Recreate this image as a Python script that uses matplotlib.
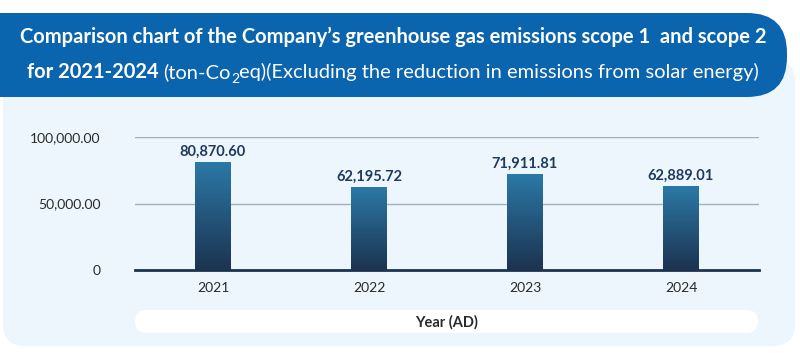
import numpy as np
import matplotlib
matplotlib.use("Agg")
import matplotlib.pyplot as plt
from matplotlib.patches import FancyBboxPatch
from matplotlib.colors import LinearSegmentedColormap

# donnees du graphique
years = ["2021", "2022", "2023", "2024"]
emissions = [80870.60, 62195.72, 71911.81, 62889.01]
yticks = [0, 50000, 100000]
ytick_labels = ["0", "50,000.00", "100,000.00"]

W, H = 800, 353
fig = plt.figure(figsize=(W / 100, H / 100), dpi=100)
fig.patch.set_facecolor("white")

# fond en coordonnees pixels
bg = fig.add_axes([0, 0, 1, 1])
bg.set_xlim(0, W)
bg.set_ylim(H, 0)
bg.axis("off")

# panneau bleu clair
bg.add_patch(FancyBboxPatch((3, 60), 792, 286, boxstyle="round,pad=0,rounding_size=22",
                            fc="#edf6fd", ec="none"))
# bandeau du titre
bg.add_patch(FancyBboxPatch((-60, 13), 847, 84, boxstyle="round,pad=0,rounding_size=40",
                            fc="#0b64ae", ec="none"))
# pilule blanche pour l'axe x
bg.add_patch(FancyBboxPatch((135, 310), 623, 23, boxstyle="round,pad=0,rounding_size=11.5",
                            fc="white", ec="none"))
bg.text(447, 322, "Year (AD)", ha="center", va="center", fontsize=10.5,
        fontweight="bold", color="#2a2a2a", family="Lato")

# titre : ligne 1
fs = 14.5
bg.text(393, 37, "Comparison chart of the Company\u2019s greenhouse gas emissions scope 1  and scope 2",
        ha="center", va="center", fontsize=fs, fontweight="bold", color="white", family="Lato")

# titre : ligne 2 avec poids melanges, assemblee morceau par morceau
pieces = [("for 2021-2024 ", "bold", fs, 0),
          ("(ton-Co", "normal", fs, 0),
          ("2", "normal", fs * 0.7, 5),
          ("eq)(Excluding the reduction in emissions from solar energy)", "normal", fs, 0)]
fig.canvas.draw()
r = fig.canvas.get_renderer()
widths = []
for s, w, f, dy in pieces:
    t = bg.text(0, 0, s, fontsize=f, fontweight=w, family="Lato")
    widths.append(t.get_window_extent(r).width)
    t.remove()
x = 393 - sum(widths) / 2
for (s, w, f, dy), wd in zip(pieces, widths):
    bg.text(x, 78 + dy, s, ha="left", va="baseline", fontsize=f, fontweight=w,
            color="white", family="Lato")
    x += wd

# axes principaux
ax = fig.add_axes([135 / W, 1 - 270 / H, 624 / W, 133 / H])
ax.patch.set_alpha(0)
xpos = np.arange(len(years)) + 0.5
bars = ax.bar(xpos, emissions, width=0.23, color="none", zorder=3)

cmap = LinearSegmentedColormap.from_list("barre", ["#1c3350", "#2b79a6"])
grad = np.linspace(0, 1, 256).reshape(-1, 1)
for b in bars:
    x0, w = b.get_x(), b.get_width()
    h = b.get_height()
    im = ax.imshow(grad, cmap=cmap, origin="lower", aspect="auto",
                   extent=(x0, x0 + w, 0, h), zorder=3)
    im.set_clip_path(b)
    ax.text(b.get_x() + w / 2, h + 2500, f"{h:,.2f}", ha="center", va="bottom",
            fontsize=10.5, fontweight="bold", color="#1e3a5c", family="Lato", clip_on=False)

ax.set_xlim(0, len(years))
ax.set_ylim(0, 100000)
ax.set_xticks(xpos)
ax.set_xticklabels(years, fontsize=10, color="#2a2a2a", family="Lato")
ax.set_yticks(yticks)
ax.set_yticklabels(ytick_labels, fontsize=10, color="#2a2a2a", family="Lato")
ax.tick_params(length=0)
ax.tick_params(axis="y", pad=25)
ax.tick_params(axis="x", pad=9)
for sp in ["top", "right", "left"]:
    ax.spines[sp].set_visible(False)
ax.spines["bottom"].set_color("#1c3350")
ax.spines["bottom"].set_linewidth(2)
ax.spines["bottom"].set_zorder(4)
ax.yaxis.grid(True, color="#a3afba", linewidth=1, zorder=1)
ax.set_axisbelow(True)

fig.savefig("out.png", dpi=100, facecolor="white")
